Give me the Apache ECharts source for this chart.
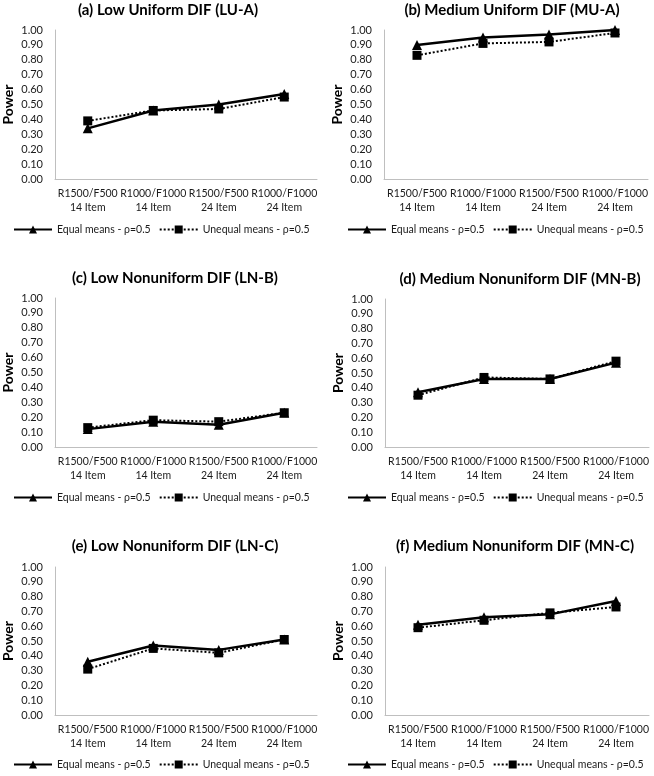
<!DOCTYPE html>
<html>
<head>
<meta charset="utf-8">
<script src="https://cdn.jsdelivr.net/npm/echarts@6/dist/echarts.min.js"></script>
<style>
html,body{margin:0;padding:0;background:#fff;}
#chart{width:654px;height:776px;}
</style>
</head>
<body>
<div id="chart"></div>
<script>
// ---- data ----
const categoryTop = ['R1500/F500', 'R1000/F1000', 'R1500/F500', 'R1000/F1000'];
const categoryBottom = ['14 Item', '14 Item', '24 Item', '24 Item'];
const seriesNames = ['Equal means - ρ=0.5', 'Unequal means - ρ=0.5'];
const panelTitles = [
  '(a) Low Uniform DIF (LU-A)',
  '(b) Medium Uniform DIF (MU-A)',
  '(c) Low Nonuniform DIF (LN-B)',
  '(d) Medium Nonuniform DIF (MN-B)',
  '(e) Low Nonuniform DIF (LN-C)',
  '(f) Medium Nonuniform DIF (MN-C)'
];
const equalA = [0.34, 0.46, 0.50, 0.57];
const unequalA = [0.39, 0.46, 0.47, 0.55];
const equalB = [0.90, 0.95, 0.97, 1.00];
const unequalB = [0.83, 0.91, 0.92, 0.98];
const equalC = [0.12, 0.17, 0.15, 0.23];
const unequalC = [0.13, 0.18, 0.17, 0.23];
const equalD = [0.37, 0.46, 0.46, 0.57];
const unequalD = [0.35, 0.47, 0.46, 0.58];
const equalE = [0.36, 0.47, 0.44, 0.51];
const unequalE = [0.31, 0.45, 0.42, 0.51];
const equalF = [0.61, 0.66, 0.68, 0.77];
const unequalF = [0.59, 0.64, 0.69, 0.73];
const yAxisName = 'Power';

const categories = categoryTop.map((t, i) => t + '\n' + categoryBottom[i]);
const equalAll = [equalA, equalB, equalC, equalD, equalE, equalF];
const unequalAll = [unequalA, unequalB, unequalC, unequalD, unequalE, unequalF];

// ---- layout ----
const FONT = 'Lato';
const grids = [
  {left: 50, top: 30, width: 267, height: 149},
  {left: 384, top: 30, width: 264, height: 149},
  {left: 50, top: 298, width: 267, height: 149},
  {left: 385, top: 299, width: 264, height: 148},
  {left: 50, top: 567, width: 267, height: 148},
  {left: 385, top: 567, width: 264, height: 148}
];
const titlePos = [
  {x: 168, y: 3}, {x: 512, y: 3},
  {x: 175, y: 271}, {x: 520, y: 272},
  {x: 175, y: 539}, {x: 515, y: 539}
];
const legendPos = [
  {x: 13, y: 224}, {x: 347, y: 224},
  {x: 13, y: 492}, {x: 347, y: 492},
  {x: 13, y: 759}, {x: 347, y: 759}
];

const option = {
  backgroundColor: '#ffffff',
  animation: false,
  title: panelTitles.map((t, i) => ({
    text: t, left: titlePos[i].x, top: titlePos[i].y, textAlign: 'center', padding: 0,
    textStyle: {fontFamily: FONT, fontSize: 15, fontWeight: 'bold', color: '#000'}
  })),
  legend: legendPos.map((p, i) => ({
    data: seriesNames, left: p.x, top: p.y, padding: 0, width: 320, orient: 'horizontal',
    itemWidth: 38, itemHeight: 10, itemGap: 8,
    textStyle: {fontFamily: FONT, fontSize: 10.5, color: '#1a1a1a'}
  })),
  grid: grids.map(g => Object.assign({containLabel: false}, g)),
  xAxis: grids.map((g, i) => ({
    type: 'category', gridIndex: i, data: categories, boundaryGap: true,
    axisLine: {lineStyle: {color: '#bfbfbf', width: 1}},
    axisTick: {show: false},
    axisLabel: {interval: 0, fontFamily: FONT, fontSize: 10.5, color: '#1a1a1a', lineHeight: 14, margin: 8}
  })),
  yAxis: grids.map((g, i) => ({
    type: 'value', gridIndex: i, min: 0, max: 1, interval: 0.1,
    name: yAxisName, nameLocation: 'middle', nameGap: 40, nameRotate: 90,
    nameTextStyle: {fontFamily: FONT, fontSize: 14, fontWeight: 'bold', color: '#000'},
    axisLine: {show: true, lineStyle: {color: '#bfbfbf', width: 1}},
    axisTick: {show: false},
    splitLine: {show: false},
    axisLabel: {fontFamily: FONT, fontSize: 11, color: '#1a1a1a', margin: 12, formatter: v => v.toFixed(2)}
  })),
  series: []
};

grids.forEach((g, i) => {
  option.series.push({
    name: seriesNames[0], type: 'line', xAxisIndex: i, yAxisIndex: i,
    data: equalAll[i], symbol: 'triangle', symbolSize: 10,
    lineStyle: {color: '#000', width: 2.5, type: 'solid'},
    itemStyle: {color: '#000'}, z: 2
  });
  option.series.push({
    name: seriesNames[1], type: 'line', xAxisIndex: i, yAxisIndex: i,
    data: unequalAll[i], symbol: 'rect', symbolSize: 9,
    lineStyle: {color: '#000', width: 2, type: 'dotted'},
    itemStyle: {color: '#000'}, z: 3
  });
});

const chart = echarts.init(document.getElementById('chart'), null, {renderer: 'canvas'});
chart.setOption(option);
</script>
</body>
</html>
